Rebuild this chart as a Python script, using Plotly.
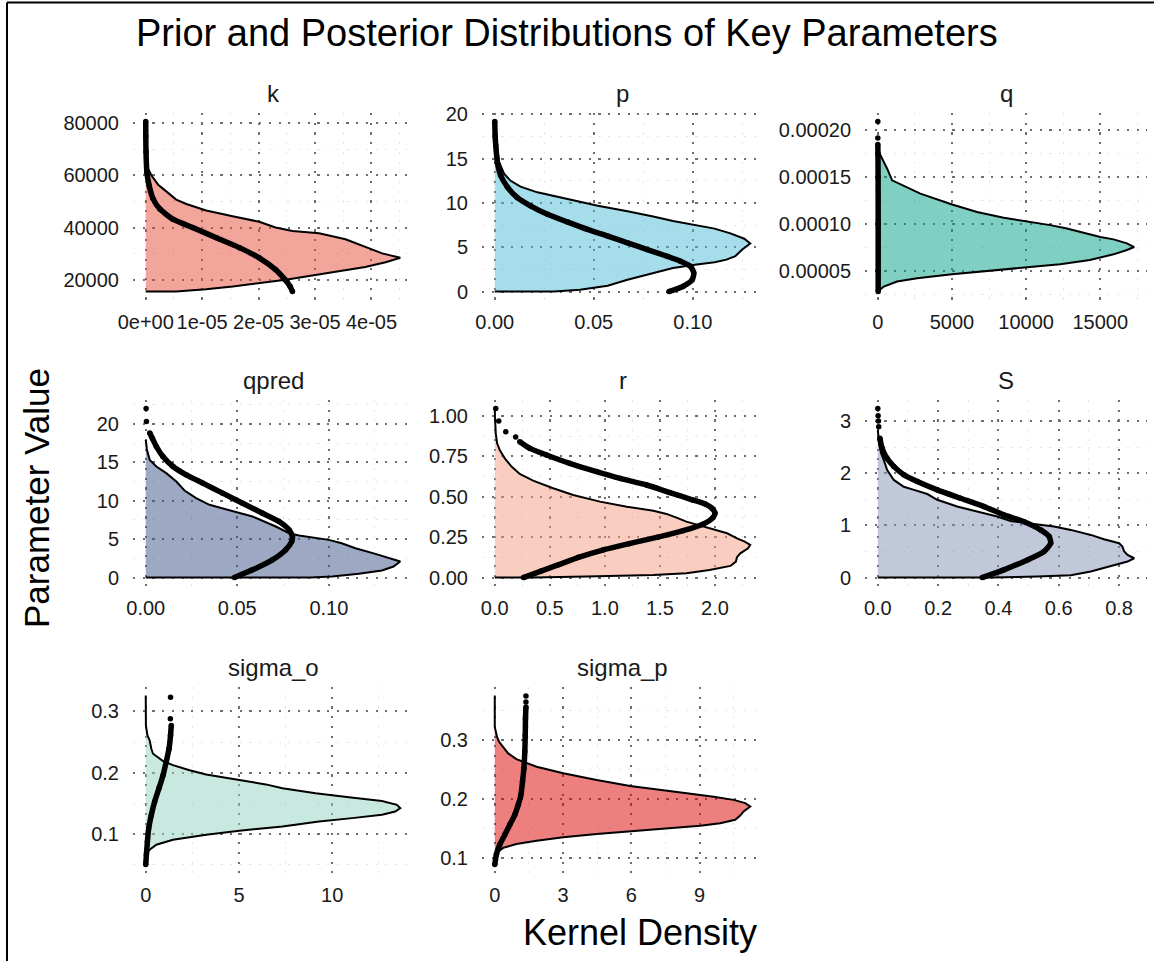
import plotly.graph_objects as go

# ---------------- data ----------------
params = ["k", "p", "q", "qpred", "r", "S", "sigma_o", "sigma_p"]

# k
k_post_y = [15500, 16400, 17435, 20000, 22850, 24900, 26700, 28400, 30100, 33600, 35500, 37800, 38700,
            40000, 42200, 44300, 46500, 49000, 50700, 54800, 56400, 60000, 62600, 65200, 66000]
k_post_d = [5.4e-6, 1.07e-5, 1.54e-5, 2.48e-5, 3.30e-5, 3.89e-5, 4.25e-5, 4.51e-5, 4.19e-5, 3.78e-5, 3.54e-5,
            3.07e-5, 2.60e-5, 2.30e-5, 2.01e-5, 1.54e-5, 1.07e-5, 7.2e-6, 5.4e-6, 3.1e-6, 2.2e-6, 1.0e-6,
            4e-7, 1e-7, 0]
k_prior_y = [15500, 17400, 20000, 23900, 28400, 32300, 36100, 40000, 43200, 47100, 51000, 56100, 61300,
             69000, 75000, 80600]
k_prior_d = [2.60e-5, 2.56e-5, 2.47e-5, 2.30e-5, 2.01e-5, 1.66e-5, 1.25e-5, 8.3e-6, 4.8e-6, 2.5e-6, 1.3e-6,
             6e-7, 2e-7, 5e-8, 1e-8, 0]
k_tail_y = []
k_tail_d = []

# p
p_post_y = [0, 0.19, 0.65, 1.33, 1.9, 2.66, 3.04, 3.3, 3.6, 4.0, 4.74, 5.43, 5.96, 6.57, 7.1, 7.5, 7.97,
            8.46, 9.07, 9.68, 10.25, 10.8, 11.2, 11.84, 12.5, 13.3, 14.6, 16.5, 18.0, 19.0]
p_post_d = [0.030, 0.043, 0.057, 0.067, 0.077, 0.090, 0.102, 0.111, 0.117, 0.1215, 0.125, 0.129, 0.126,
            0.119, 0.111, 0.1005, 0.090, 0.080, 0.067, 0.052, 0.040, 0.030, 0.0215, 0.013, 0.008, 0.0047,
            0.0022, 0.001, 0.0003, 0]
p_prior_y = [0, 0.57, 1.33, 2.09, 2.85, 3.42, 3.98, 4.74, 5.5, 6.26, 7.02, 7.86, 8.73, 9.68, 10.6, 11.8,
             13.1, 14.6, 16.5, 17.5, 19.2]
p_prior_d = [0.088, 0.095, 0.0997, 0.1005, 0.0988, 0.0938, 0.087, 0.077, 0.067, 0.057, 0.0467, 0.0366,
             0.0266, 0.018, 0.0114, 0.0064, 0.003, 0.0013, 0.0005, 0.0002, 0]
p_tail_y = []
p_tail_d = []

# q
q_post_y = [0.0000280, 0.0000333, 0.0000387, 0.0000422, 0.0000465, 0.0000500, 0.0000535, 0.0000571,
            0.0000617, 0.0000677, 0.0000723, 0.0000755, 0.0000794, 0.0000837, 0.0000862, 0.0000900,
            0.0000954, 0.0000989, 0.0001030, 0.0001067, 0.0001130, 0.0001210, 0.0001326, 0.0001422,
            0.0001468, 0.0001592, 0.0001699, 0.0001770, 0.0001840]
q_post_d = [0, 404, 1300, 2650, 5000, 7360, 10000, 12300, 14300, 15900, 16800, 17290, 16800, 15900, 15000,
            14100, 12750, 11630, 10060, 8490, 6690, 5010, 2870, 1530, 965, 630, 290, 70, 0]
q_prior_y = [0.0000280, 0.0000500, 0.0001000, 0.0001500, 0.0001750, 0.0001850]
q_prior_d = [25, 25, 25, 20, 10, 0]
q_tail_y = [0.0001920, 0.0002096]
q_tail_d = [0, 0]

# qpred
qpred_post_y = [0, 0.13, 0.48, 0.91, 1.43, 2.08, 2.52, 3.08, 3.82, 4.47, 4.9, 5.2, 5.47, 5.77, 6.64, 7.94,
                8.8, 9.46, 10.33, 11.32, 12.5, 13.58, 14.45, 15.3, 16.6, 17.9]
qpred_post_d = [0.090, 0.1018, 0.1163, 0.129, 0.1353, 0.139, 0.1335, 0.1254, 0.1145, 0.107, 0.100, 0.091,
                0.0837, 0.0783, 0.071, 0.0583, 0.0457, 0.0348, 0.0275, 0.0212, 0.0167, 0.0112, 0.0058,
                0.0022, 0.0007, 0]
qpred_prior_y = [0, 1.0, 2.3, 3.6, 4.69, 5.34, 6.2, 7.29, 8.37, 9.67, 10.98, 12.28, 13.36, 14.45, 15.75,
                 17.05, 18.13, 18.8]
qpred_prior_d = [0.0484, 0.0583, 0.0692, 0.0764, 0.0797, 0.0801, 0.0783, 0.0728, 0.0638, 0.0529, 0.042,
                 0.0312, 0.0221, 0.0149, 0.0094, 0.0058, 0.0036, 0.0022]
qpred_tail_y = [20.3, 22.0]
qpred_tail_d = [0.0004, 0.0002]

# r
r_post_y = [0, 0.006, 0.0165, 0.027, 0.047, 0.072, 0.099, 0.126, 0.150, 0.181, 0.202, 0.223, 0.243, 0.274,
            0.299, 0.320, 0.346, 0.371, 0.394, 0.414, 0.439, 0.470, 0.511, 0.553, 0.600, 0.641, 0.687,
            0.738, 0.790, 0.831, 0.893, 0.975, 1.037]
r_post_d = [0.35, 0.83, 1.44, 1.74, 1.95, 2.14, 2.19, 2.20, 2.23, 2.30, 2.32, 2.27, 2.20, 2.11, 1.98, 1.86,
            1.74, 1.65, 1.56, 1.44, 1.20, 0.955, 0.712, 0.53, 0.348, 0.227, 0.152, 0.091, 0.045, 0.021,
            0.009, 0.003, 0]
r_prior_y = [0, 0.04, 0.08, 0.125, 0.17, 0.21, 0.25, 0.29, 0.33, 0.37, 0.40, 0.43, 0.455, 0.48, 0.526,
             0.573, 0.614, 0.656, 0.707, 0.759, 0.80, 0.841]
r_prior_d = [0.26, 0.42, 0.58, 0.76, 0.98, 1.22, 1.48, 1.71, 1.89, 1.98, 2.00, 1.97, 1.91, 1.80, 1.59,
             1.38, 1.14, 0.924, 0.68, 0.47, 0.318, 0.227]
r_tail_y = [0.87, 0.903, 0.969, 1.047]
r_tail_d = [0.19, 0.10, 0.036, 0.009]

# S
S_post_y = [0, 0.019, 0.045, 0.115, 0.179, 0.243, 0.306, 0.37, 0.434, 0.498, 0.593, 0.657, 0.734, 0.817,
            0.913, 0.976, 1.04, 1.085, 1.17, 1.26, 1.36, 1.49, 1.60, 1.68, 1.74, 1.87, 2.06, 2.25, 2.38,
            2.57, 2.83]
S_post_d = [0.38, 0.529, 0.64, 0.706, 0.75, 0.794, 0.828, 0.85, 0.828, 0.817, 0.811, 0.80, 0.75, 0.706,
            0.64, 0.584, 0.507, 0.44, 0.396, 0.33, 0.263, 0.197, 0.164, 0.12, 0.086, 0.053, 0.031, 0.02,
            0.011, 0.004, 0]
S_prior_y = [0, 0.147, 0.338, 0.498, 0.657, 0.785, 0.913, 1.07, 1.2, 1.36, 1.52, 1.68, 1.84, 1.97, 2.13,
             2.28, 2.48, 2.67]
S_prior_d = [0.346, 0.418, 0.496, 0.551, 0.573, 0.568, 0.54, 0.485, 0.418, 0.352, 0.274, 0.197, 0.131,
             0.086, 0.053, 0.031, 0.014, 0.007]
S_tail_y = [2.89, 3.0, 3.1, 3.24]
S_tail_d = [0.003, 0.002, 0.001, 0]

# sigma_o
so_post_y = [0.0665, 0.0746, 0.0827, 0.0908, 0.0989, 0.1054, 0.1124, 0.1205, 0.126, 0.1314, 0.1368, 0.1422,
             0.1476, 0.154, 0.16, 0.1665, 0.1746, 0.181, 0.188, 0.197, 0.204, 0.2124, 0.219, 0.231, 0.239,
             0.253, 0.261, 0.269, 0.277, 0.326]
so_post_d = [0, 0.21, 0.57, 1.46, 3.24, 5.02, 7.33, 9.29, 11.07, 12.67, 13.38, 13.65, 13.47, 12.67, 10.89,
             9.11, 7.33, 6.44, 5.02, 3.24, 2.35, 1.46, 0.93, 0.39, 0.30, 0.21, 0.09, 0.04, 0.01, 0]
so_prior_y = [0.0503, 0.0665, 0.088, 0.1097, 0.131, 0.153, 0.1746, 0.196, 0.218, 0.239, 0.261, 0.277]
so_prior_d = [0, 0.036, 0.09, 0.16, 0.30, 0.48, 0.71, 0.93, 1.10, 1.25, 1.33, 1.37]
so_tail_y = [0.288, 0.323]
so_tail_d = [1.32, 1.33]

# sigma_p
sp_post_y = [0.1056, 0.1085, 0.117, 0.1237, 0.1293, 0.135, 0.1406, 0.145, 0.1496, 0.1546, 0.159, 0.1648,
             0.172, 0.179, 0.1873, 0.193, 0.1986, 0.204, 0.2099, 0.2172, 0.2222, 0.2324, 0.2437, 0.2549,
             0.2679, 0.2775, 0.2887, 0.2972, 0.3056, 0.314, 0.3225, 0.376]
sp_post_d = [0, 0.07, 0.37, 0.95, 1.84, 3.01, 4.48, 6.02, 7.56, 9.03, 9.91, 10.57, 10.79, 10.94, 11.23,
             11.01, 10.5, 9.62, 8.44, 6.98, 5.95, 4.48, 3.01, 1.84, 0.95, 0.59, 0.37, 0.19, 0.10, 0.04,
             0.0, 0]
sp_prior_y = [0.0887, 0.1056, 0.1225, 0.1394, 0.1563, 0.1732, 0.19, 0.207, 0.2296, 0.2521, 0.2803, 0.3085,
              0.3366, 0.3563]
sp_prior_d = [0, 0.07, 0.22, 0.44, 0.66, 0.88, 1.03, 1.15, 1.22, 1.28, 1.32, 1.34, 1.35, 1.37]
sp_tail_y = [0.3648, 0.375]
sp_tail_d = [1.37, 1.37]

# tick values / labels
x_ticks = {
    "k": ([0, 1e-5, 2e-5, 3e-5, 4e-5], ["0e+00", "1e-05", "2e-05", "3e-05", "4e-05"]),
    "p": ([0, 0.05, 0.10], ["0.00", "0.05", "0.10"]),
    "q": ([0, 5000, 10000, 15000], ["0", "5000", "10000", "15000"]),
    "qpred": ([0, 0.05, 0.10], ["0.00", "0.05", "0.10"]),
    "r": ([0, 0.5, 1.0, 1.5, 2.0], ["0.0", "0.5", "1.0", "1.5", "2.0"]),
    "S": ([0, 0.2, 0.4, 0.6, 0.8], ["0.0", "0.2", "0.4", "0.6", "0.8"]),
    "sigma_o": ([0, 5, 10], ["0", "5", "10"]),
    "sigma_p": ([0, 3, 6, 9], ["0", "3", "6", "9"]),
}
y_ticks = {
    "k": ([20000, 40000, 60000, 80000], ["20000", "40000", "60000", "80000"]),
    "p": ([0, 5, 10, 15, 20], ["0", "5", "10", "15", "20"]),
    "q": ([0.00005, 0.0001, 0.00015, 0.0002], ["0.00005", "0.00010", "0.00015", "0.00020"]),
    "qpred": ([0, 5, 10, 15, 20], ["0", "5", "10", "15", "20"]),
    "r": ([0, 0.25, 0.5, 0.75, 1.0], ["0.00", "0.25", "0.50", "0.75", "1.00"]),
    "S": ([0, 1, 2, 3], ["0", "1", "2", "3"]),
    "sigma_o": ([0.1, 0.2, 0.3], ["0.1", "0.2", "0.3"]),
    "sigma_p": ([0.1, 0.2, 0.3], ["0.1", "0.2", "0.3"]),
}

fill_colors = {
    "k": "rgba(230,75,53,0.5)", "p": "rgba(77,187,213,0.5)", "q": "rgba(0,160,135,0.5)",
    "qpred": "rgba(60,84,136,0.5)", "r": "rgba(243,155,127,0.5)", "S": "rgba(132,145,180,0.5)",
    "sigma_o": "rgba(145,209,194,0.5)", "sigma_p": "rgba(220,0,0,0.5)",
}

data = {
    "k": (k_post_y, k_post_d, k_prior_y, k_prior_d, k_tail_y, k_tail_d),
    "p": (p_post_y, p_post_d, p_prior_y, p_prior_d, p_tail_y, p_tail_d),
    "q": (q_post_y, q_post_d, q_prior_y, q_prior_d, q_tail_y, q_tail_d),
    "qpred": (qpred_post_y, qpred_post_d, qpred_prior_y, qpred_prior_d, qpred_tail_y, qpred_tail_d),
    "r": (r_post_y, r_post_d, r_prior_y, r_prior_d, r_tail_y, r_tail_d),
    "S": (S_post_y, S_post_d, S_prior_y, S_prior_d, S_tail_y, S_tail_d),
    "sigma_o": (so_post_y, so_post_d, so_prior_y, so_prior_d, so_tail_y, so_tail_d),
    "sigma_p": (sp_post_y, sp_post_d, sp_prior_y, sp_prior_d, sp_tail_y, sp_tail_d),
}

# ---------------- layout geometry ----------------
W, H = 1154, 961
col_px = [(133, 413), (482, 763), (865, 1147)]
row_px = [(113, 300), (400, 586), (687, 873)]
FONT = "Liberation Sans, Arial, Helvetica, sans-serif"
TXT = "#1a1a1a"


def minor_vals(major, lo, hi):
    step = major[1] - major[0]
    vals = [major[0] - step / 2] + [(a + b) / 2 for a, b in zip(major[:-1], major[1:])] + [major[-1] + step / 2]
    return [v for v in vals if lo <= v <= hi]


fig = go.Figure()
layout = dict(
    template="none",
    width=W, height=H, margin=dict(l=0, r=0, t=0, b=0, pad=0, autoexpand=False),
    paper_bgcolor="white", plot_bgcolor="white", showlegend=False,
    font=dict(family=FONT, color=TXT),
)
annotations = []

for i, name in enumerate(params):
    row, col = divmod(i, 3)
    post_y, post_d, pr_y, pr_d, t_y, t_d = data[name]
    xa = "x" if i == 0 else f"x{i + 1}"
    ya = "y" if i == 0 else f"y{i + 1}"
    xkey = "xaxis" if i == 0 else f"xaxis{i + 1}"
    ykey = "yaxis" if i == 0 else f"yaxis{i + 1}"

    # posterior density polygon
    fig.add_trace(go.Scatter(
        x=[0] + post_d + [0], y=[post_y[0]] + post_y + [post_y[-1]],
        mode="lines", fill="toself", fillcolor=fill_colors[name],
        line=dict(color="black", width=2), xaxis=xa, yaxis=ya, hoverinfo="skip",
    ))
    # prior density points
    fig.add_trace(go.Scatter(
        x=pr_d, y=pr_y, mode="lines+markers",
        line=dict(color="black", width=5.5, shape="spline", smoothing=0.6),
        marker=dict(color="black", size=5.5), xaxis=xa, yaxis=ya, hoverinfo="skip",
    ))
    if t_y:
        fig.add_trace(go.Scatter(
            x=t_d, y=t_y, mode="markers", marker=dict(color="black", size=5.5),
            xaxis=xa, yaxis=ya, hoverinfo="skip",
        ))

    all_y = post_y + pr_y + t_y
    all_d = post_d + pr_d + t_d
    xmax = max(all_d)
    ymin, ymax = min(all_y), max(all_y)
    yspan = ymax - ymin
    xr = [-0.05 * xmax, 1.05 * xmax]
    yr = [ymin - 0.05 * yspan, ymax + 0.05 * yspan]

    xt, xl = x_ticks[name]
    yt, yl = y_ticks[name]
    x0, x1 = col_px[col]
    top, bot = row_px[row]

    common = dict(
        showgrid=True, gridcolor="#6e6e6e", griddash="2.2px,7.5px", gridwidth=2.2,
        zeroline=False, showline=False, ticks="", fixedrange=True, automargin=False,
        tickfont=dict(family=FONT, size=20, color=TXT),
    )
    layout[xkey] = dict(
        domain=[x0 / W, x1 / W], range=xr, anchor=ya, tickmode="array", tickvals=xt, ticktext=xl,
        minor=dict(tickmode="array", tickvals=minor_vals(xt, xr[0], xr[1]), showgrid=True,
                   gridcolor="#E6E6E6", gridwidth=1.3),
        ticklabelstandoff=8, **common,
    )
    layout[ykey] = dict(
        domain=[1 - bot / H, 1 - top / H], range=yr, anchor=xa, tickmode="array", tickvals=yt, ticktext=yl,
        minor=dict(tickmode="array", tickvals=minor_vals(yt, yr[0], yr[1]), showgrid=True,
                   gridcolor="#E6E6E6", gridwidth=1.3),
        ticklabelstandoff=13, **common,
    )
    annotations.append(dict(
        text=name, x=(x0 + x1) / 2 / W, y=1 - (top - 20) / H, xref="paper", yref="paper",
        showarrow=False, xanchor="center", yanchor="middle", font=dict(family=FONT, size=24, color=TXT),
    ))

annotations += [
    dict(text="Prior and Posterior Distributions of Key Parameters", x=567 / W, y=1 - 33 / H,
         xref="paper", yref="paper", showarrow=False, xanchor="center", yanchor="middle",
         font=dict(family=FONT, size=38, color="black")),
    dict(text="Parameter Value", x=37 / W, y=1 - 498 / H, xref="paper", yref="paper", showarrow=False,
         xanchor="center", yanchor="middle", textangle=-90, font=dict(family=FONT, size=35, color="black")),
    dict(text="Kernel Density", x=640 / W, y=1 - 932 / H, xref="paper", yref="paper", showarrow=False,
         xanchor="center", yanchor="middle", font=dict(family=FONT, size=36, color="black")),
]
layout["annotations"] = annotations
layout["shapes"] = [
    dict(type="line", xref="paper", yref="paper", x0=7 / W, x1=7 / W, y0=0, y1=1 - 2.5 / H,
         line=dict(color="black", width=2)),
    dict(type="line", xref="paper", yref="paper", x0=7 / W, x1=1, y0=1 - 2.5 / H, y1=1 - 2.5 / H,
         line=dict(color="black", width=2)),
]
fig.update_layout(**layout)

fig.write_html("out.html", config={"displayModeBar": False},
               post_script="document.body.style.margin='0px';")
